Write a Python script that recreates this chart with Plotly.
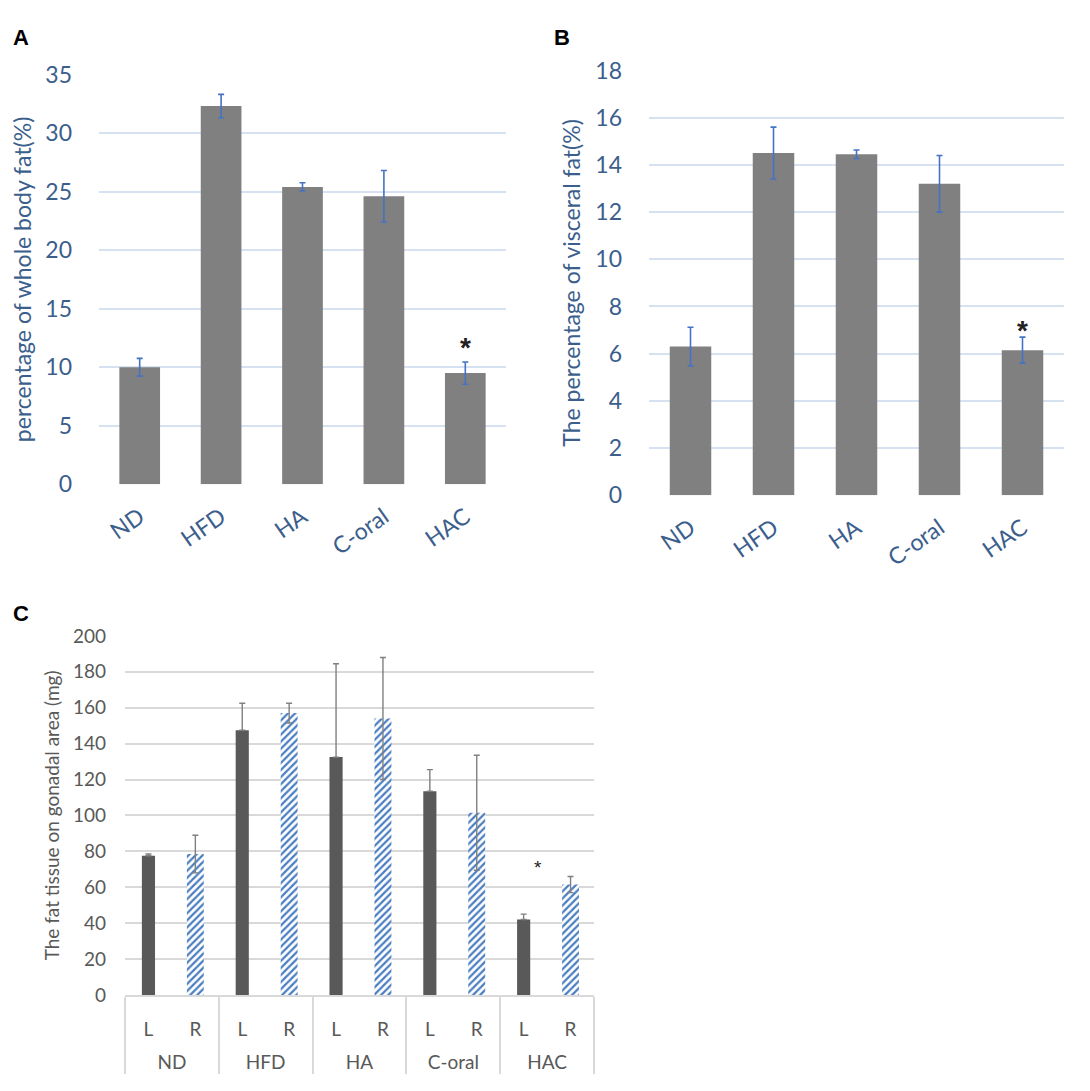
import plotly.graph_objs as go

groups = ["ND", "HFD", "HA", "C-oral", "HAC"]

# panel A - whole body fat (%)
body_fat = [10.0, 32.3, 25.4, 24.6, 9.5]
body_fat_err = [0.76, 1.0, 0.35, 2.2, 0.95]

# panel B - visceral fat (%)
visceral_fat = [6.3, 14.5, 14.45, 13.2, 6.15]
visceral_fat_err = [0.82, 1.1, 0.18, 1.2, 0.55]

# panel C - gonadal fat tissue (mg), left / right
gonadal_L = [77.5, 147.5, 132.5, 113.5, 42.0]
gonadal_L_err = [1.0, 15.0, 52.0, 12.0, 3.0]
gonadal_R = [78.5, 157.0, 154.0, 101.5, 61.5]
gonadal_R_err = [10.5, 5.5, 34.0, 32.0, 4.5]

W, H = 1090, 1091
blue_txt = "#3B5E8C"
gray_txt = "#595959"
font_main = "Lato"

# the page lands a bit shifted in the screenshot, so pixel targets are corrected
def px_x(a, b):
    return [(a - 7) / W, (b - 7) / W]

def px_y(top, bottom):
    t = (top - 22.4) / 0.977
    b = (bottom - 22.4) / 0.977
    return [1 - b / H, 1 - t / H]

# outer labels get an empty first line so they sit lower, like the Excel axis
outer = [" <br>" + g for g in groups]

traceA = go.Bar(
    x=groups, y=body_fat,
    marker=dict(color="#808080", line=dict(width=0)),
    error_y=dict(type="data", array=body_fat_err, color="#4472C4", thickness=1.6, width=3),
    width=0.5, xaxis="x", yaxis="y", showlegend=False)

traceB = go.Bar(
    x=groups, y=visceral_fat,
    marker=dict(color="#808080", line=dict(width=0)),
    error_y=dict(type="data", array=visceral_fat_err, color="#4472C4", thickness=1.6, width=3),
    width=0.5, xaxis="x2", yaxis="y2", showlegend=False)

traceC_L = go.Bar(
    x=[outer, ["L"] * 5], y=gonadal_L,
    width=0.28,
    marker=dict(color="#595959", line=dict(width=0)),
    error_y=dict(type="data", array=gonadal_L_err, arrayminus=[0] * 5,
                 color="#808080", thickness=1.4, width=3),
    xaxis="x3", yaxis="y3", showlegend=False)

traceC_R = go.Bar(
    x=[outer, ["R"] * 5], y=gonadal_R,
    width=0.36,
    marker=dict(color="#4A7EC0", line=dict(width=0),
                pattern=dict(shape="/", fillmode="replace", fgcolor="#4A7EC0",
                             bgcolor="white", size=5, solidity=0.45)),
    error_y=dict(type="data", array=gonadal_R_err,
                 color="#808080", thickness=1.4, width=3),
    xaxis="x3", yaxis="y3", showlegend=False)

ab_x = dict(tickangle=-35, showgrid=False, showline=False, ticks="", ticklabelstandoff=14,
            tickfont=dict(family=font_main, size=23, color=blue_txt))

ab_y = dict(showgrid=True, gridcolor="#D6E2F2", gridwidth=1.5, zeroline=False,
            showline=False, ticks="", ticklabelstandoff=26,
            tickfont=dict(family=font_main, size=23, color=blue_txt))

panel_font = dict(family="Liberation Sans", size=22, color="black")

layout = go.Layout(
    width=W, height=H,
    margin=dict(l=0, r=0, t=0, b=0),
    paper_bgcolor="white", plot_bgcolor="white",
    font=dict(family=font_main),
    barmode="overlay",
    xaxis=dict(ab_x, domain=px_x(98, 505), anchor="y"),
    yaxis=dict(ab_y, domain=px_y(74, 485), range=[0, 35], dtick=5, anchor="x",
               title=dict(text="percentage of whole body fat(%)", standoff=8,
                          font=dict(family=font_main, size=23, color=blue_txt))),
    xaxis2=dict(ab_x, domain=px_x(648, 1063), anchor="y2"),
    yaxis2=dict(ab_y, domain=px_y(70, 496), range=[0, 18], dtick=2, anchor="x2",
                title=dict(text="The percentage of visceral fat(%)", standoff=8,
                           font=dict(family=font_main, size=23, color=blue_txt))),
    xaxis3=dict(domain=px_x(124, 593), anchor="y3", type="multicategory",
                showgrid=False, showline=True, linecolor="#D9D9D9", linewidth=1.5,
                showdividers=True, dividercolor="#D9D9D9", dividerwidth=1.5,
                ticklabelstandoff=17,
                tickfont=dict(family=font_main, size=19, color=gray_txt)),
    yaxis3=dict(domain=px_y(637, 997), range=[0, 200], dtick=20, anchor="x3",
                showgrid=True, gridcolor="#D9D9D9", gridwidth=1.5, zeroline=False,
                showline=False, ticks="", ticklabelstandoff=18,
                tickfont=dict(family=font_main, size=19, color=gray_txt),
                title=dict(text="The fat tissue on gonadal area (mg)", standoff=8,
                           font=dict(family=font_main, size=19, color=gray_txt))),
    annotations=[
        dict(text="<b>A</b>", x=(10 - 7) / W, y=1, xref="paper", yref="paper",
             xanchor="left", yanchor="top", showarrow=False, font=panel_font),
        dict(text="<b>B</b>", x=(551 - 7) / W, y=1, xref="paper", yref="paper",
             xanchor="left", yanchor="top", showarrow=False, font=panel_font),
        dict(text="<b>C</b>", x=(10 - 7) / W, y=1 - (615 - 22.4) / 0.977 / H, xref="paper", yref="paper",
             xanchor="left", yanchor="middle", showarrow=False, font=panel_font),
        dict(text="<b>*</b>", x="HAC", y=12.2, xref="x", yref="y", showarrow=False,
             yanchor="middle", yshift=-6, font=dict(family="Liberation Sans", size=28, color="#222")),
        dict(text="<b>*</b>", x="HAC", y=7.24, xref="x2", yref="y2", showarrow=False,
             yanchor="middle", yshift=-6, font=dict(family="Liberation Sans", size=28, color="#222")),
        dict(text="*", x=8.3, y=73, xref="x3", yref="y3", showarrow=False,
             yanchor="middle", yshift=-4, font=dict(family="Liberation Sans", size=19, color="#222")),
    ],
)

fig = go.Figure(data=[traceA, traceB, traceC_L, traceC_R], layout=layout)
fig.write_html("out.html")
